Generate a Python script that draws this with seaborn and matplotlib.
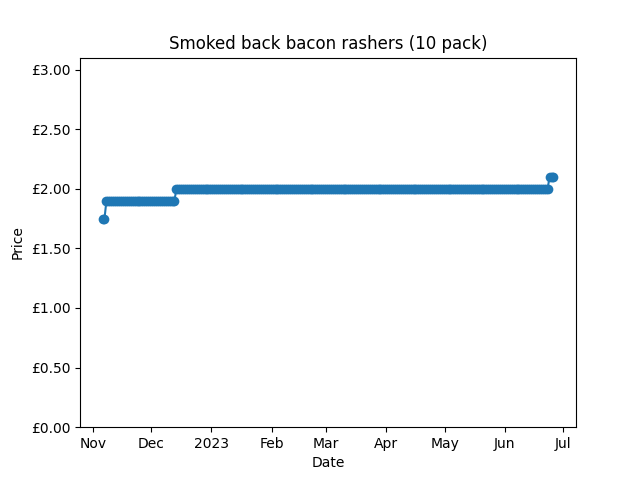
import matplotlib
matplotlib.use("Agg")
import matplotlib.pyplot as plt
import matplotlib.dates as mdates
import matplotlib.ticker as mticker
import pandas as pd
import seaborn as sns

# price changes (date the price took effect, price in £)
change_dates = ["2022-11-06", "2022-11-08", "2022-12-14", "2023-06-24"]
change_prices = [1.75, 1.90, 2.00, 2.10]
last_date = "2023-06-26"

days = pd.date_range(change_dates[0], last_date, freq="D")
prices = pd.Series(change_prices, index=pd.to_datetime(change_dates)).reindex(days).ffill()
df = pd.DataFrame({"Date": days, "Price": prices.values})

fig, ax = plt.subplots(figsize=(6.4, 4.8), dpi=100)
sns.lineplot(data=df, x="Date", y="Price", marker="o", markersize=7,
             markeredgewidth=0, color="#1f77b4", ax=ax)

ax.set_ylim(0, 3.1)
ax.yaxis.set_major_locator(mticker.MultipleLocator(0.5))
ax.yaxis.set_major_formatter(mticker.FuncFormatter(lambda v, _: f"£{v:.2f}"))

locator = mdates.MonthLocator()
formatter = mdates.ConciseDateFormatter(locator)
formatter.offset_formats = [""] * 6
ax.xaxis.set_major_locator(locator)
ax.xaxis.set_major_formatter(formatter)

ax.set_title("Smoked back bacon rashers (10 pack)")
ax.set_xlabel("Date")
ax.set_ylabel("Price")

fig.savefig("out.png", dpi=100)
